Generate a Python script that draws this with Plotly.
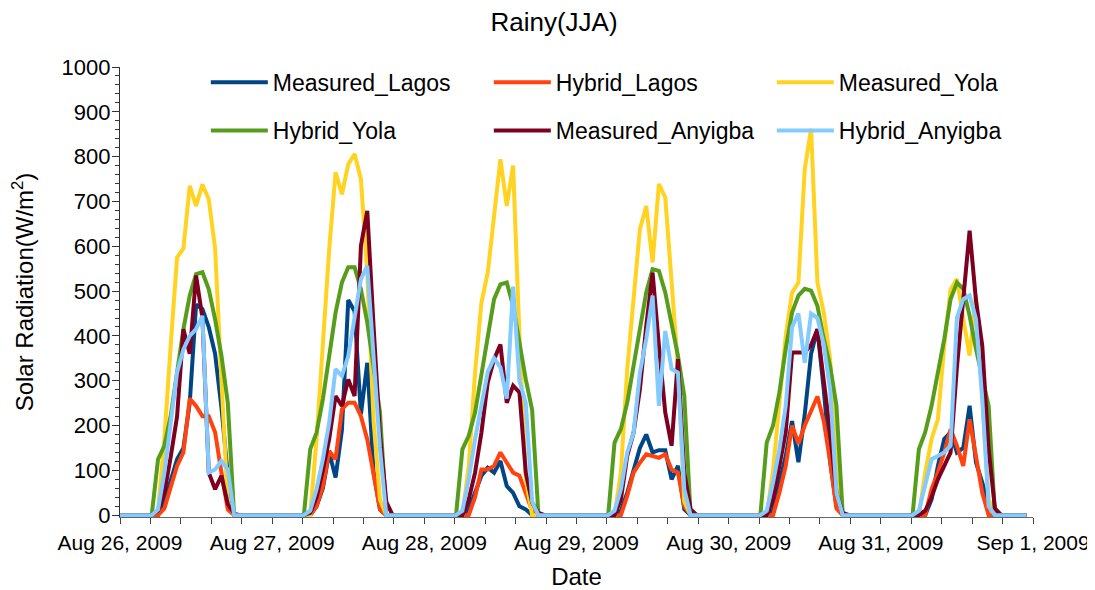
import pandas as pd
import plotly.graph_objects as go

# ---- data (hourly values, W/m^2) ----
START = "2009-08-26 00:00"
N_DAYS = 6
DAYLIGHT_HOURS = list(range(5, 19))   # hours 05..18; other hours read as 0

series_names = ["Measured_Lagos", "Hybrid_Lagos", "Measured_Yola",
                "Hybrid_Yola", "Measured_Anyigba", "Hybrid_Anyigba"]
series_colors = ["#004586", "#ff420e", "#ffd320", "#579d1c", "#7e0021", "#83caff"]

measured_lagos = [
    [0, 0, 30, 80, 125, 150, 250, 470, 460, 420, 360, 240, 90, 0],
    [0, 0, 20, 60, 140, 84, 190, 480, 455, 225, 340, 95, 13, 0],
    [0, 0, 13, 50, 88, 106, 95, 121, 65, 50, 20, 13, 0, 0],
    [0, 0, 10, 50, 100, 150, 180, 140, 145, 145, 80, 110, 13, 0],
    [0, 0, 13, 73, 132, 210, 118, 225, 360, 415, 280, 120, 20, 0],
    [0, 0, 0, 35, 110, 170, 185, 140, 150, 244, 118, 73, 20, 0],
]
hybrid_lagos = [
    [0, 0, 15, 60, 110, 140, 260, 244, 221, 221, 185, 95, 13, 0],
    [0, 0, 20, 65, 143, 125, 236, 251, 251, 221, 169, 88, 13, 0],
    [0, 0, 0, 40, 102, 102, 110, 140, 117, 95, 88, 50, 10, 0],
    [0, 0, 0, 43, 95, 117, 136, 132, 128, 136, 102, 95, 20, 0],
    [0, 0, 0, 50, 110, 200, 160, 200, 230, 265, 210, 120, 15, 0],
    [0, 0, 0, 58, 95, 140, 192, 155, 110, 214, 125, 50, 0, 0],
]
measured_yola = [
    [0, 10, 170, 380, 575, 595, 735, 690, 738, 705, 595, 300, 30, 0],
    [0, 0, 170, 393, 594, 765, 716, 783, 806, 750, 540, 210, 35, 0],
    [0, 0, 110, 318, 474, 541, 668, 794, 690, 780, 400, 80, 0, 0],
    [0, 0, 95, 326, 482, 638, 690, 564, 739, 709, 520, 330, 30, 0],
    [0, 0, 100, 260, 400, 497, 519, 772, 862, 519, 452, 348, 110, 0],
    [0, 0, 95, 170, 214, 378, 504, 527, 438, 356, 490, 259, 35, 0],
]
hybrid_yola = [
    [0, 125, 155, 222, 318, 415, 490, 538, 542, 504, 437, 356, 251, 0],
    [0, 147, 184, 259, 363, 452, 519, 553, 553, 504, 430, 330, 230, 0],
    [0, 147, 177, 229, 318, 407, 482, 515, 519, 467, 378, 303, 235, 0],
    [0, 162, 192, 251, 333, 422, 497, 549, 545, 497, 422, 356, 266, 0],
    [0, 162, 200, 274, 371, 452, 490, 505, 501, 467, 393, 333, 244, 0],
    [0, 147, 185, 244, 318, 393, 482, 519, 505, 445, 371, 304, 244, 0],
]
measured_anyigba = [
    [0, 10, 50, 130, 220, 415, 360, 535, 440, 95, 58, 88, 25, 3],
    [0, 5, 40, 100, 170, 266, 244, 303, 266, 601, 679, 420, 180, 30],
    [0, 0, 35, 95, 184, 296, 348, 381, 251, 289, 274, 95, 28, 5],
    [0, 0, 35, 132, 184, 281, 422, 541, 378, 229, 155, 348, 95, 13],
    [0, 0, 35, 110, 185, 363, 363, 363, 380, 415, 300, 185, 50, 5],
    [0, 0, 10, 40, 80, 110, 140, 330, 480, 635, 480, 378, 147, 15],
]
hybrid_anyigba = [
    [0, 13, 95, 207, 318, 370, 400, 415, 445, 95, 102, 121, 102, 0],
    [0, 10, 58, 125, 207, 326, 311, 355, 445, 527, 556, 350, 150, 0],
    [0, 10, 80, 170, 245, 320, 350, 330, 260, 510, 300, 250, 30, 0],
    [0, 10, 58, 140, 184, 318, 393, 490, 244, 411, 326, 318, 58, 0],
    [0, 10, 73, 147, 244, 420, 450, 340, 450, 440, 380, 280, 50, 0],
    [0, 10, 65, 125, 132, 140, 155, 440, 482, 490, 438, 259, 20, 0],
]
all_series = [measured_lagos, hybrid_lagos, measured_yola,
              hybrid_yola, measured_anyigba, hybrid_anyigba]

# ---- build hourly series ----
times = pd.date_range(START, periods=24 * N_DAYS, freq="h")


def hourly(days):
    out = []
    for day in days:
        vals = dict(zip(DAYLIGHT_HOURS, day))
        out.extend(vals.get(h, 0) for h in range(24))
    return out


FONT = "Liberation Sans, Arial, sans-serif"
fig = go.Figure()
for i, (name, color, days) in enumerate(zip(series_names, series_colors, all_series)):
    fig.add_trace(go.Scatter(
        x=times, y=hourly(days), mode="lines", name=name,
        line=dict(color=color, width=4),
        legend="legend" if i < 3 else "legend2",
    ))

legend_common = dict(
    orientation="h", xanchor="left", yanchor="middle",
    font=dict(family=FONT, size=23, color="#000"),
    bgcolor="rgba(0,0,0,0)", itemwidth=57, entrywidth=211,
    entrywidthmode="pixels", itemclick=False, itemdoubleclick=False,
)

# page has an 8px body margin, so the figure is 8px smaller than the window
fig.update_layout(
    width=1087, height=582,
    margin=dict(l=112, r=62, t=59, b=73, autoexpand=False),
    paper_bgcolor="white", plot_bgcolor="white",
    font=dict(family=FONT, color="#000"),
    title=dict(text="Rainy(JJA)", x=546 / 1087, xref="container",
               y=1 - 14 / 582, yref="container",
               xanchor="center", yanchor="middle",
               font=dict(family=FONT, size=26, color="#000")),
    legend=dict(x=0.094, y=0.966, **legend_common),
    legend2=dict(x=0.094, y=0.859, **legend_common),
    showlegend=True,
    xaxis=dict(
        type="date", automargin=False,
        range=[pd.Timestamp("2009-08-26"), pd.Timestamp("2009-09-01")],
        dtick=86400000, tick0="2009-08-26", tickformat="%b %-d, %Y",
        ticks="outside", ticklen=6, tickwidth=1, tickcolor="#444",
        showline=True, linecolor="#666", linewidth=1.3,
        showgrid=False, zeroline=False, layer="below traces",
        tickfont=dict(family=FONT, size=21, color="#000"),
        ticklabelstandoff=1,
        minor=dict(dtick=17280000, tick0="2009-08-26", ticks="outside",
                   ticklen=6, tickwidth=1, tickcolor="#444", showgrid=False),
        title=dict(text="Date", font=dict(family=FONT, size=24, color="#000"),
                   standoff=16),
    ),
    yaxis=dict(
        range=[-4, 1000], dtick=100, tick0=0, automargin=False,
        ticks="outside", ticklen=7, tickwidth=1.3, tickcolor="#333",
        showline=True, linecolor="#333", linewidth=1.3,
        showgrid=False, zeroline=False, layer="below traces",
        tickfont=dict(family=FONT, size=22, color="#000"),
        ticklabelstandoff=-3,
        minor=dict(dtick=20, tick0=0, ticks="outside", ticklen=4,
                   tickwidth=1, tickcolor="#333", showgrid=False),
        title=dict(text="Solar Radiation(W/m<sup>2</sup>)",
                   font=dict(family=FONT, size=24, color="#000"), standoff=22),
    ),
)

fig.write_html("out.html")
